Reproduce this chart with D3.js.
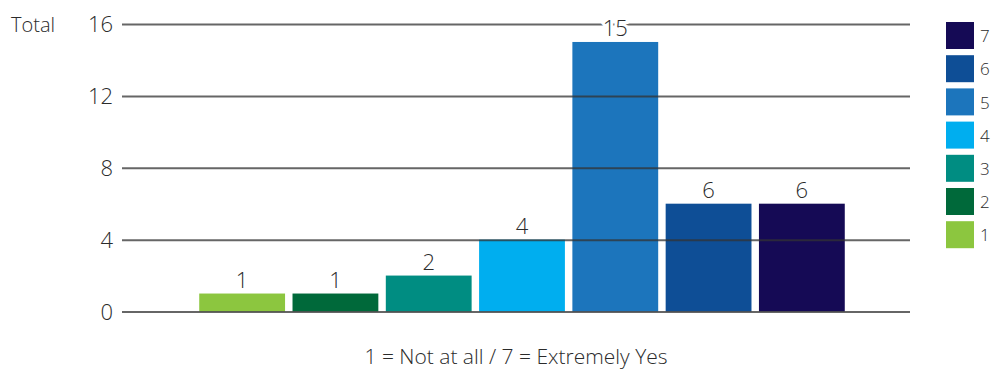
<!DOCTYPE html>
<html>
<head>
<meta charset="utf-8">
<script src="https://cdn.jsdelivr.net/npm/d3@7"></script>
<style>
  body { margin: 0; background: #fff; }
  svg text { font-family: "Open Sans", Lato, sans-serif; font-weight: 300; fill: #2b2b2b; }
</style>
</head>
<body>
<div id="chart"></div>
<script>
// chart data
const categories = ['1', '2', '3', '4', '5', '6', '7'];
const values = [1, 1, 2, 4, 15, 6, 6];
const colors = ['#8cc63f', '#00693a', '#008d82', '#00aeef', '#1c75bc', '#0e4e96', '#150a55'];
const yTicks = [0, 4, 8, 12, 16];

const width = 993, height = 374;

const svg = d3.select('#chart')
    .append('svg')
    .attr('width', width)
    .attr('height', height);

const x = d3.scaleBand()
    .domain(categories)
    .range([195.5, 848.5])
    .paddingInner(0.08)
    .paddingOuter(0.04);

const y = d3.scaleLinear()
    .domain([0, 16])
    .range([311.5, 24]);

// bars
svg.append('g')
    .selectAll('rect')
    .data(categories)
    .join('rect')
    .attr('x', d => x(d))
    .attr('y', (d, i) => y(values[i]))
    .attr('width', x.bandwidth())
    .attr('height', (d, i) => y(0) - y(values[i]))
    .attr('fill', (d, i) => colors[i]);

// gridlines sit on top of the bars
const yAxis = d3.axisLeft(y)
    .tickValues(yTicks)
    .tickSizeInner(-(910 - 122))
    .tickSizeOuter(0)
    .tickPadding(9);

const gy = svg.append('g')
    .attr('transform', 'translate(122,0)')
    .call(yAxis);
gy.select('.domain').remove();
gy.selectAll('.tick line')
    .attr('stroke', '#333')
    .attr('stroke-opacity', 0.75)
    .attr('stroke-width', 2);
gy.selectAll('.tick text')
    .attr('font-size', 22)
    .attr('font-family', null)
    .attr('dy', '0.36em');

// value labels
svg.append('g')
    .selectAll('text')
    .data(categories)
    .join('text')
    .attr('x', d => x(d) + x.bandwidth() / 2)
    .attr('y', (d, i) => y(values[i]) - 6)
    .attr('text-anchor', 'middle')
    .attr('font-size', 22)
    .attr('stroke', '#fff')
    .attr('stroke-width', 6)
    .attr('paint-order', 'stroke')
    .text((d, i) => values[i]);

svg.append('text')
    .attr('x', 11)
    .attr('y', 32)
    .attr('font-size', 20)
    .text('Total');

svg.append('text')
    .attr('x', 516)
    .attr('y', 364)
    .attr('text-anchor', 'middle')
    .attr('font-size', 21)
    .text('1 = Not at all / 7 = Extremely Yes');

// legend, 7 on top
const legend = svg.append('g')
    .selectAll('g')
    .data(categories.slice().reverse())
    .join('g')
    .attr('transform', (d, i) => `translate(946, ${22 + i * 33.2})`);

legend.append('rect')
    .attr('width', 28)
    .attr('height', 27)
    .attr('fill', d => colors[categories.indexOf(d)]);

legend.append('text')
    .attr('x', 34)
    .attr('y', 14)
    .attr('dy', '0.36em')
    .attr('font-size', 17)
    .text(d => d);
</script>
</body>
</html>
